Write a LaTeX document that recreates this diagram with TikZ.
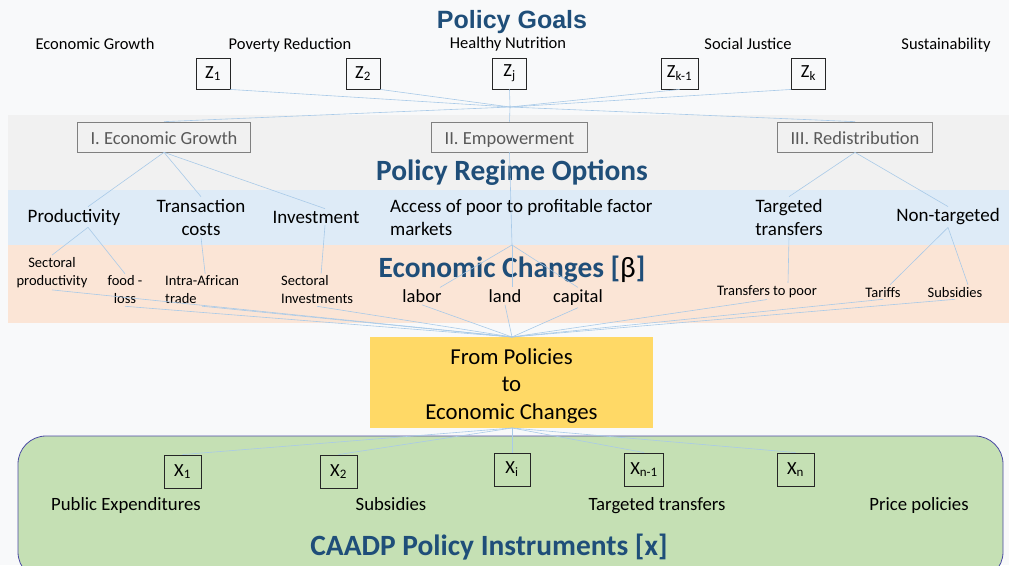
\documentclass[tikz,border=0pt]{standalone}
\usepackage{fontspec}
\setmainfont{Carlito}
\newfontfamily\goalfont{Liberation Sans}
\usetikzlibrary{positioning}

\definecolor{pagebg}{HTML}{F8F9FA}
\definecolor{regimegray}{HTML}{F1F1F1}
\definecolor{optionblue}{HTML}{DEEBF7}
\definecolor{changeorange}{HTML}{FBE5D6}
\definecolor{policyyellow}{HTML}{FFD966}
\definecolor{instrgreen}{HTML}{C5E0B4}
\definecolor{titleblue}{HTML}{1F4E79}
\definecolor{linkblue}{HTML}{A9CAE8}
\definecolor{regimetext}{HTML}{595959}

\begin{document}
\begin{tikzpicture}[x=1pt,y=-1pt,
    link/.style={draw=linkblue, line width=0.6pt},
    title/.style={anchor=base, text=titleblue, font=\fontsize{29.4}{32}\selectfont\bfseries},
    goal/.style={anchor=base, font=\fontsize{16.5}{19}\selectfont},
    zbox/.style={draw=black!85, line width=0.9pt, minimum height=31pt, minimum width=34pt, inner xsep=6pt, font=\fontsize{18.5}{20}\selectfont},
    regime/.style={draw=black!50, line width=0.7pt, text=regimetext, minimum height=30pt, inner xsep=13pt,
        text height=15pt, text depth=0pt, font=\fontsize{18.5}{20}\selectfont},
    option/.style={align=center, inner sep=2pt, font=\fontsize{19}{23}\selectfont},
    change/.style={align=center, inner sep=2pt, font=\fontsize{14.5}{18}\selectfont},
    factor/.style={anchor=base, inner sep=2pt, font=\fontsize{18.5}{20}\selectfont},
    instr/.style={anchor=base, font=\fontsize{18.75}{20}\selectfont}
]
\useasboundingbox (0,0) rectangle (1009,565);
\fill[pagebg] (0,0) rectangle (1009,565);

% bands
\fill[regimegray] (8,115) rectangle (1009,190);
\fill[optionblue] (8,190) rectangle (1009,245);
\fill[changeorange] (8,245) rectangle (1009,323);
\filldraw[fill=instrgreen, draw=black!15!blue!40!gray, line width=0.8pt, rounded corners=28pt] (18,436) rectangle (1003,580);
\fill[policyyellow] (370,337) rectangle (653,428);

% policy goals
\node[anchor=base, text=titleblue, font=\goalfont\fontsize{25}{28}\selectfont\bfseries] (goaltitle) at (512,28) {Policy Goals};
\node[goal] (growth) at (95,49.5) {Economic Growth};
\node[goal] (poverty) at (290,49.5) {Poverty Reduction};
\node[goal] (nutrition) at (508,48.5) {Healthy Nutrition};
\node[goal] (justice) at (748,49.5) {Social Justice};
\node[goal] (sustain) at (946,49.5) {Sustainability};

\node[zbox] (z1) at (213,73.5) {Z\textsubscript{1}};
\node[zbox] (z2) at (363,73.5) {Z\textsubscript{2}};
\node[zbox] (zj) at (509.5,73.5) {Z\textsubscript{j}};
\node[zbox] (zk1) at (679.5,73.5) {Z\textsubscript{k-1}};
\node[zbox] (zk) at (808.5,73.5) {Z\textsubscript{k}};
\coordinate (goalhub) at (510,107);

% policy regime options
\node[regime] (regI) at (164,137) {I. Economic Growth};
\node[regime] (regII) at (509.5,137) {II. Empowerment};
\node[regime] (regIII) at (855,137) {III. Redistribution};
\node[title] (regimetitle) at (512,180) {Policy Regime Options};

\node[option] (prod) at (74,217) {Productivity};
\node[option] (trans) at (201,217) {Transaction\\costs};
\node[option] (invest) at (316,217) {Investment};
\node[option, anchor=west, align=left] (access) at (388,217) {Access of poor to profitable factor\\markets};
\node[option] (targeted) at (789,217) {Targeted\\transfers};
\node[option] (nontarg) at (948,217) {Non-targeted};
\coordinate (accesshub) at (512,245);

% economic changes
\node[title] (changetitle) at (512,277) {Economic Changes [{\color{black}\mdseries β}]};
\node[change] (sectprod) at (52,272.5) {Sectoral\\productivity};
\node[change] (foodloss) at (125,290) {food -\\loss};
\node[change, anchor=west, align=left] (intra) at (163,290) {Intra-African\\trade};
\node[change, anchor=west, align=left] (sectinv) at (279,290) {Sectoral\\Investments};
\node[factor] (labor) at (422,302.5) {labor};
\node[factor] (land) at (505,302.5) {land};
\node[factor] (capital) at (578,302.5) {capital};
\node[change, anchor=base] (topoor) at (767,295) {Transfers to poor};
\node[change, anchor=base] (tariffs) at (883,297) {Tariffs};
\node[change, anchor=base] (subs) at (955,297) {Subsidies};

% from policies to changes
\node[align=center, font=\fontsize{22.8}{27.5}\selectfont] (bridge) at (511.5,386) {From Policies\\to\\Economic Changes};
\coordinate (bridgetop) at (512,337);
\coordinate (bridgebot) at (512,428);

% policy instruments
\node[zbox, minimum height=33pt, minimum width=37pt] (x1) at (182.5,471.5) {X\textsubscript{1}};
\node[zbox, minimum height=33pt, minimum width=37pt] (x2) at (338.5,471.5) {X\textsubscript{2}};
\node[zbox, minimum height=33pt, minimum width=36pt] (xi) at (512,469.5) {X\textsubscript{i}};
\node[zbox, minimum height=33pt, minimum width=37pt] (xn1) at (644,469.5) {X\textsubscript{n-1}};
\node[zbox, minimum height=33pt, minimum width=37pt] (xn) at (795.5,469.5) {X\textsubscript{n}};
\node[instr] (pubexp) at (126,510) {Public Expenditures};
\node[instr] (subsidy) at (391,510) {Subsidies};
\node[instr] (transfer) at (657,510) {Targeted transfers};
\node[instr] (price) at (919,510) {Price policies};
\node[title] (instrtitle) at (489,555) {CAADP Policy Instruments [x]};

% connectors
\draw[link] (z1.south east) -- (goalhub);
\draw[link] (z2.south east) -- (goalhub);
\draw[link] (zj.south) -- (goalhub);
\draw[link] (zk1.south) -- (goalhub);
\draw[link] (zk.south west) -- (goalhub);
\draw[link] (goalhub) -- (regI.north);
\draw[link] (goalhub) -- (regII.north);
\draw[link] (goalhub) -- (regIII.north);

\draw[link] (regI.south) -- ([xshift=14pt]prod.north);
\draw[link] (regI.south) -- (trans.north);
\draw[link] (regI.south) -- ([xshift=9pt]invest.north);
\draw[link] (regII.south) -- (accesshub);
\draw[link] (regIII.south) -- (targeted.north);
\draw[link] (regIII.south) -- (nontarg.north);

\draw[link] ([xshift=14pt]prod.south) -- (sectprod.north);
\draw[link] ([xshift=14pt]prod.south) -- (foodloss.north);
\draw[link] (trans.south) -- ([xshift=3pt]intra.north);
\draw[link] ([xshift=9pt]invest.south) -- ([xshift=4pt]sectinv.north);
\draw[link] (accesshub) -- ([xshift=18pt]labor.north);
\draw[link] (accesshub) -- ([xshift=7pt]land.north);
\draw[link] (accesshub) -- (capital.north);
\draw[link] (targeted.south) -- ([xshift=21pt]topoor.north);
\draw[link] (nontarg.south) -- ([xshift=7pt]tariffs.north);
\draw[link] (nontarg.south) -- ([xshift=13pt]subs.north);

\foreach \item in {sectprod, foodloss, intra, sectinv, labor, land, capital, topoor, tariffs, subs}
    \draw[link] (\item.south) -- (bridgetop);

\foreach \item in {x1, x2, xi, xn1, xn}
    \draw[link] (bridgebot) -- (\item.north);
\end{tikzpicture}
\end{document}
